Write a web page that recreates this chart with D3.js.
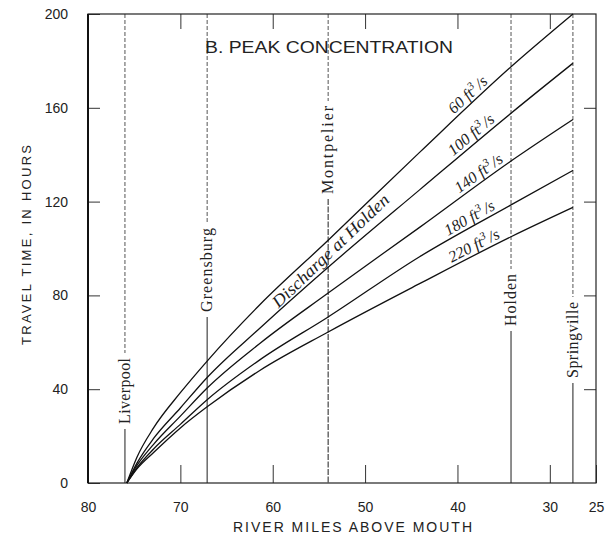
<!DOCTYPE html>
<html>
<head>
<meta charset="utf-8">
<script src="https://cdn.jsdelivr.net/npm/d3@7/dist/d3.min.js"></script>
<style>
  body { margin: 0; background: #fff; }
  text { fill: #222; }
</style>
</head>
<body>
<div id="chart"></div>
<script>
// river miles where the curves were read
const miles = [75.8, 74.7, 72.9, 70, 67.1, 61.4, 54, 44.1, 34.2, 27.5]
const discharges = [60, 100, 140, 180, 220]
const hours60 = [0, 11, 23.5, 38.5, 52, 76, 103.5, 141, 177.5, 200]
const hours100 = [0, 8.5, 19, 32, 45, 66, 92, 125, 157.7, 179]
const hours140 = [0, 7.5, 16.5, 28.5, 40.5, 59.5, 81, 109, 137.3, 155]
const hours180 = [0, 6.5, 14.5, 25, 35.5, 52.5, 70.8, 96.5, 118.6, 133.3]
const hours220 = [0, 6, 13, 23.5, 32.5, 48, 64.4, 85, 105, 117.5]
const towns = ['Liverpool', 'Greensburg', 'Montpelier', 'Holden', 'Springville']
const townMiles = [76, 67.1, 54, 34.2, 27.5]
const xTicks = [80, 70, 60, 50, 40, 30, 25]
const yTicks = [0, 40, 80, 120, 160, 200]

const w = 613, h = 549
const pLeft = 88, pRight = 596, pTop = 14, pBottom = 483

const x = d3.scaleLinear().domain([80, 25]).range([pLeft, pRight])
const y = d3.scaleLinear().domain([0, 200]).range([pBottom, pTop])

const svg = d3.select('#chart').append('svg')
  .attr('width', w)
  .attr('height', h)
  .style('font-family', '"Liberation Sans", Arial, sans-serif')

// town lines, broken where the name sits (label centre y, half length)
const townLabel = [[391, 33], [270, 42], [150, 44], [300, 26], [340, 38]]
towns.forEach((name, i) => {
  const tx = x(townMiles[i])
  const [cy, half] = townLabel[i]
  svg.append('line')
    .attr('x1', tx).attr('x2', tx)
    .attr('y1', pTop).attr('y2', cy - half - 5)
    .attr('stroke', '#555')
    .attr('stroke-width', 1)
    .attr('stroke-dasharray', '4,2')
  svg.append('line')
    .attr('x1', tx).attr('x2', tx)
    .attr('y1', cy + half + 5).attr('y2', pBottom)
    .attr('stroke', '#333')
    .attr('stroke-width', 1.1)
    .attr('stroke-dasharray', i == 2 ? '6,1.5' : null)
  svg.append('text')
    .attr('transform', `translate(${tx + 5},${cy}) rotate(-90)`)
    .attr('text-anchor', 'middle')
    .attr('font-family', '"Liberation Serif", "Times New Roman", serif')
    .attr('font-size', 16)
    .attr('textLength', half * 2)
    .attr('lengthAdjust', 'spacing')
    .text(name)
})

// axes, ticks drawn inward
const xAxis = svg.append('g')
  .attr('transform', `translate(0,${pBottom})`)
  .call(d3.axisBottom(x).tickValues(xTicks).tickSize(-18).tickPadding(19).tickFormat(d3.format('d')))
const xTop = svg.append('g')
  .attr('transform', `translate(0,${pTop})`)
  .call(d3.axisTop(x).tickValues(xTicks.slice(1, -1)).tickSize(-15).tickFormat(''))
const yAxis = svg.append('g')
  .attr('transform', `translate(${pLeft},0)`)
  .call(d3.axisLeft(y).tickValues(yTicks).tickSize(-12).tickPadding(20))
const yRight = svg.append('g')
  .attr('transform', `translate(${pRight},0)`)
  .call(d3.axisRight(y).tickValues(yTicks.slice(1, -1)).tickSize(-12).tickFormat(''))

;[xAxis, xTop, yAxis, yRight].forEach(g => {
  g.select('.domain').remove()
  g.selectAll('line').attr('stroke', '#333').attr('stroke-width', 1)
  g.selectAll('text').attr('font-size', 14).attr('fill', '#222')
    .attr('font-family', '"Liberation Sans", Arial, sans-serif')
})

// frame
svg.append('rect')
  .attr('x', pLeft).attr('y', pTop)
  .attr('width', pRight - pLeft).attr('height', pBottom - pTop)
  .attr('fill', 'none')
  .attr('stroke', '#222')
  .attr('stroke-width', 1.2)
svg.append('line')
  .attr('x1', pLeft).attr('x2', pLeft).attr('y1', pTop).attr('y2', pBottom)
  .attr('stroke', '#111').attr('stroke-width', 2)

// curves
const series = [hours60, hours100, hours140, hours180, hours220]
const line = d3.line()
  .x((d, i) => x(miles[i]))
  .y(d => y(d))
  .curve(d3.curveMonotoneX)

series.forEach(s => {
  svg.append('path')
    .attr('d', line(s))
    .attr('fill', 'none')
    .attr('stroke', '#111')
    .attr('stroke-width', 1.3)
})

// point on a curve (pixel space) at a given screen x, with local angle
function along(s, px) {
  for (let i = 0; i < miles.length - 1; i++) {
    const x0 = x(miles[i]), x1 = x(miles[i + 1])
    if (px >= x0 && px <= x1) {
      const t = (px - x0) / (x1 - x0)
      const y0 = y(s[i]), y1 = y(s[i + 1])
      return { x: px, y: y0 + t * (y1 - y0), a: Math.atan2(y1 - y0, x1 - x0) * 180 / Math.PI }
    }
  }
}

const labelX = [474, 477, 484, 474, 478]
series.forEach((s, i) => {
  const p = along(s, labelX[i])
  const t = svg.append('text')
    .attr('transform', `translate(${p.x},${p.y}) rotate(${p.a}) translate(0,-4)`)
    .attr('text-anchor', 'middle')
    .attr('font-family', '"Liberation Serif", "Times New Roman", serif')
    .attr('font-style', 'italic')
    .attr('font-size', 16)
  t.append('tspan').text(`${discharges[i]} ft`)
  t.append('tspan').attr('baseline-shift', 'super').attr('font-size', 11).text('3')
  t.append('tspan').attr('dx', 2).text('/s')
})

// "Discharge at Holden" between the two upper curves
const p1 = along(hours60, 331), p2 = along(hours100, 331)
svg.append('text')
  .attr('transform', `translate(331,${(p1.y + p2.y) / 2}) rotate(${p1.a}) translate(0,5)`)
  .attr('text-anchor', 'middle')
  .attr('font-family', '"Liberation Serif", "Times New Roman", serif')
  .attr('font-style', 'italic')
  .attr('font-size', 17)
  .attr('textLength', 155)
  .attr('lengthAdjust', 'spacingAndGlyphs')
  .text('Discharge at Holden')

// titles
svg.append('text')
  .attr('x', 205).attr('y', 53)
  .attr('font-size', 16)
  .attr('textLength', 248)
  .attr('lengthAdjust', 'spacingAndGlyphs')
  .text('B. PEAK CONCENTRATION')

svg.append('text')
  .attr('x', 233).attr('y', 532)
  .attr('font-size', 14)
  .attr('textLength', 239)
  .attr('lengthAdjust', 'spacing')
  .text('RIVER MILES ABOVE MOUTH')

svg.append('text')
  .attr('transform', 'translate(31,345) rotate(-90)')
  .attr('font-size', 13)
  .attr('textLength', 200)
  .attr('lengthAdjust', 'spacing')
  .text('TRAVEL TIME, IN HOURS')
</script>
</body>
</html>
